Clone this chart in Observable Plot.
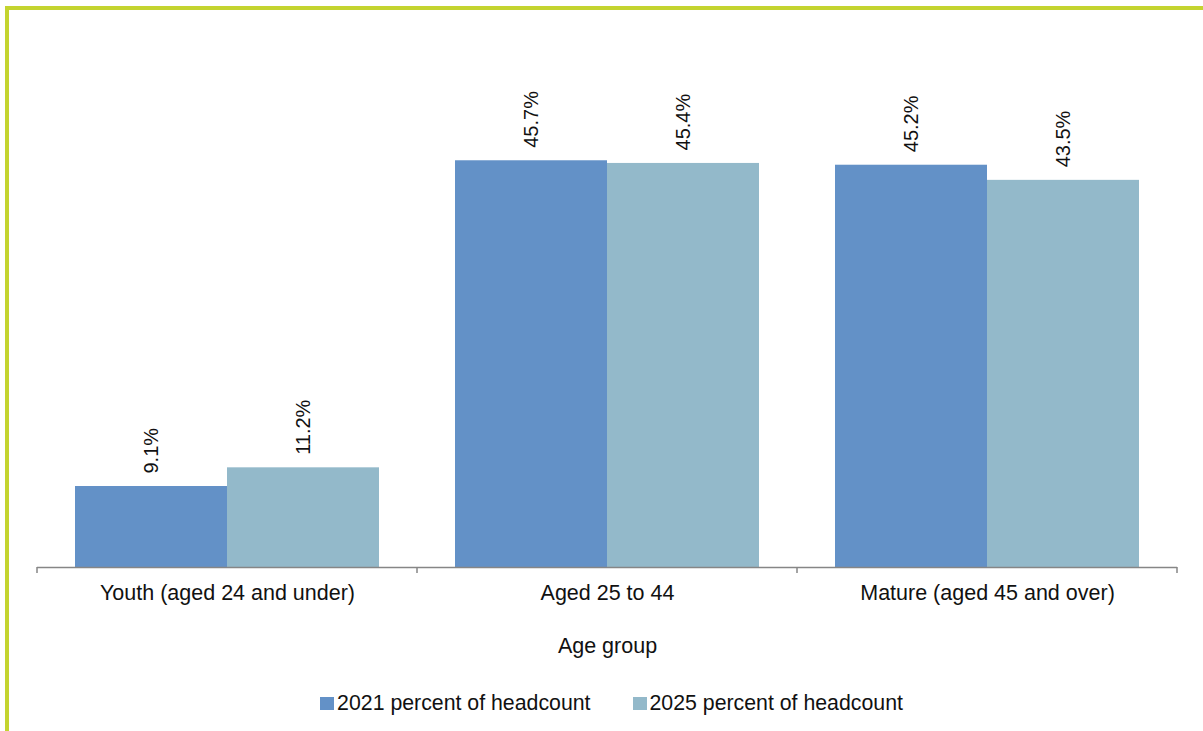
<!DOCTYPE html>
<html>
<head>
<meta charset="utf-8">
<script src="https://cdn.jsdelivr.net/npm/d3@7"></script>
<script src="https://cdn.jsdelivr.net/npm/@observablehq/plot@0.6"></script>
<style>
  html, body { margin: 0; padding: 0; background: #fff; }
  #wrap { position: relative; width: 1203px; height: 731px; overflow: hidden; font-family: "Liberation Sans", Arial, sans-serif; }
  #frame { position: absolute; left: 5px; top: 6px; right: 0; bottom: 0; border-top: 4px solid #c4d42f; border-left: 4px solid #c4d42f; }
  #chart { position: absolute; left: 0; top: 0; }
  #legend { position: absolute; left: 20px; right: 0; top: 691px; display: flex; justify-content: center; font-size: 21.3px; color: #111; }
  .item { display: flex; align-items: center; margin: 0 21px; }
  .swatch { width: 14px; height: 13px; margin-right: 3px; }
</style>
</head>
<body>
<div id="wrap">
  <div id="frame"></div>
  <div id="chart"></div>
  <div id="legend"></div>
</div>
<script>
// Age groups and the share of headcount in each, by year
const groups = ["Youth (aged 24 and under)", "Aged 25 to 44", "Mature (aged 45 and over)"];
const seriesNames = ["2021 percent of headcount", "2025 percent of headcount"];
const seriesKeys = ["2021", "2025"];
const values2021 = [9.1, 45.7, 45.2];
const values2025 = [11.2, 45.4, 43.5];
const colors = ["#6391c7", "#93b9ca"];

const data = groups.flatMap((g, i) => [
  {group: g, series: seriesKeys[0], value: values2021[i]},
  {group: g, series: seriesKeys[1], value: values2025[i]}
]);

const plot = Plot.plot({
  width: 1203,
  height: 680,
  marginLeft: 36,
  marginRight: 26,
  marginTop: 122,
  marginBottom: 113,
  style: {fontFamily: "Liberation Sans, Arial, sans-serif", fontSize: "21.5px", color: "#111", background: "transparent", overflow: "visible"},
  fx: {domain: groups, padding: 0, label: "Age group", labelAnchor: "center", labelOffset: 85, tickSize: 0, tickPadding: 17},
  x: {domain: seriesKeys, paddingInner: 0, paddingOuter: 0.245, axis: null},
  y: {domain: [0, 50], axis: null},
  color: {domain: seriesKeys, range: colors},
  marks: [
    Plot.barY(data, {fx: "group", x: "series", y: "value", fill: "series"}),
    Plot.ruleY([0], {stroke: "#868686", strokeWidth: 1.5}),
    Plot.text(data, {
      fx: "group", x: "series", y: "value",
      text: d => d.value.toFixed(1) + "%",
      rotate: -90, textAnchor: "start", dy: -13,
      fontSize: 20, fill: "#111"
    })
  ]
});
document.getElementById("chart").appendChild(plot);

// Category boundary ticks below the baseline, placed with the fx band scale
const fx = plot.scale("fx");
const y = plot.scale("y");
const y0 = y.apply(0);
const edges = groups.map(g => fx.apply(g)).concat([fx.apply(groups[groups.length - 1]) + fx.bandwidth]);
d3.select(plot).append("g")
  .attr("stroke", "#868686")
  .attr("stroke-width", 1.5)
  .selectAll("line")
  .data(edges)
  .join("line")
  .attr("x1", d => d).attr("x2", d => d)
  .attr("y1", y0).attr("y2", y0 + 6);

// Legend
const legend = d3.select("#legend");
seriesNames.forEach((name, i) => {
  const item = legend.append("div").attr("class", "item");
  item.append("div").attr("class", "swatch").style("background", colors[i]);
  item.append("span").text(name);
});
</script>
</body>
</html>
